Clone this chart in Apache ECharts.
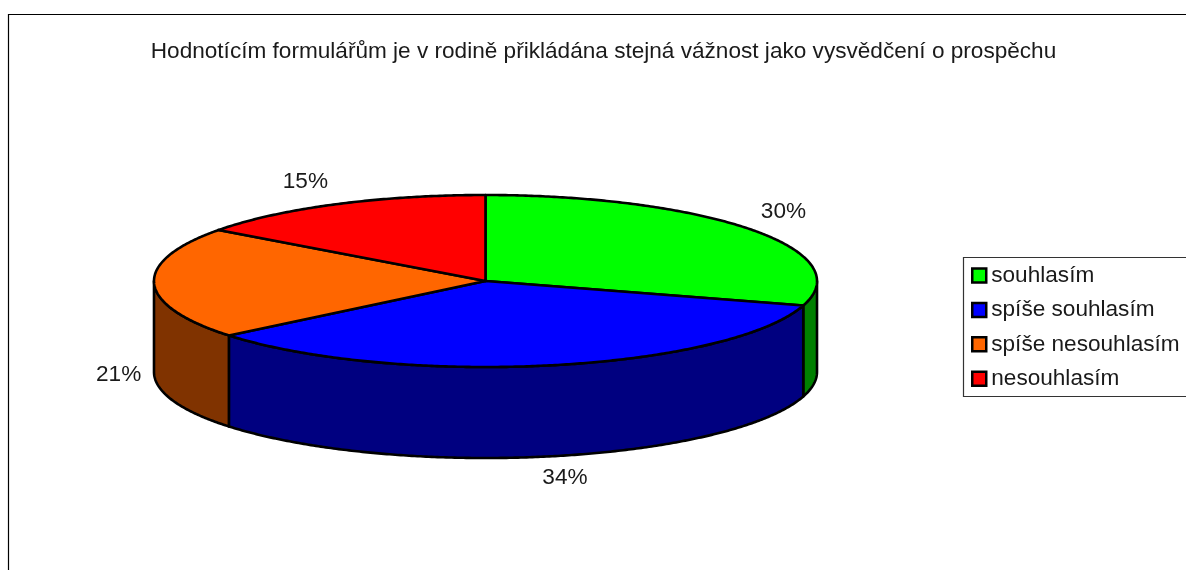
<!DOCTYPE html>
<html><head><meta charset="utf-8">
<style>html,body{margin:0;padding:0;background:#fff}#c{width:1186px;height:570px}</style>
<script src="https://cdn.jsdelivr.net/npm/echarts@6/dist/echarts.min.js"></script>
</head><body><div id="c"></div>
<script>
const titleText = 'Hodnotícím formulářům je v rodině přikládána stejná vážnost jako vysvědčení o prospěchu';
const categories = ['souhlasím', 'spíše souhlasím', 'spíše nesouhlasím', 'nesouhlasím'];
const values = [29.6, 34.49, 21, 14.91];
const topColors = ['#00FF00', '#0000FF', '#FF6600', '#FF0000'];
const wallColors = ['#008000', '#000080', '#803300', '#800000'];
const labelNudge = [[3, -2], [7, -4], [1, 0], [-14, 1]];
const FONT = '"Liberation Sans", Arial, sans-serif';

const cx = 485.5, cy = 281, rx = 331.5, ry = 86, depth = 91;
const total = values.reduce((a, b) => a + b, 0);
const pt = (deg, dy) => {
  const t = deg * Math.PI / 180;
  return [cx + rx * Math.sin(t), cy - ry * Math.cos(t) + (dy || 0)];
};
const arc = (a, b, dy) => {
  const out = [], n = Math.max(2, Math.ceil(Math.abs(b - a) * 2));
  for (let i = 0; i <= n; i++) out.push(pt(a + (b - a) * i / n, dy));
  return out;
};

function makeRender(index) {
  return function (params, api) {
    const v = api.value(0);
    let before = 0;
    for (let i = 0; i < index; i++) before += values[i];
    const a0 = before / total * 360, a1 = (before + v) / total * 360;
    const children = [];
    const line = { stroke: '#000', lineWidth: 2.6, lineJoin: 'round' };
    const w0 = Math.max(a0, 90), w1 = Math.min(a1, 270);
    if (w1 > w0) {
      children.push({
        type: 'polygon',
        shape: { points: arc(w0, w1, 0).concat(arc(w1, w0, depth)) },
        style: Object.assign({ fill: wallColors[index] }, line)
      });
    }
    children.push({
      type: 'polygon',
      shape: { points: [[cx, cy]].concat(arc(a0, a1, 0)) },
      style: Object.assign({ fill: topColors[index] }, line)
    });
    const m = (a0 + a1) / 2 * Math.PI / 180;
    const front = Math.cos(m) < 0 ? depth : 0;
    children.push({
      type: 'text',
      style: {
        text: Math.round(v / total * 100) + '%',
        x: cx + 368 * Math.sin(m) + labelNudge[index][0],
        y: cy - 112 * Math.cos(m) + front + labelNudge[index][1],
        textAlign: 'center', textVerticalAlign: 'middle',
        fontSize: 22.6, fontFamily: FONT, fill: '#1a1a1a'
      }
    });
    return { type: 'group', children };
  };
}

const chart = echarts.init(document.getElementById('c'), null, { renderer: 'canvas' });
chart.setOption({
  animation: false,
  backgroundColor: '#fff',
  title: {
    text: titleText, left: 603.5, top: 40, textAlign: 'center', padding: 0,
    textStyle: { fontSize: 22.6, fontWeight: 'normal', color: '#1a1a1a', fontFamily: FONT }
  },
  legend: {
    orient: 'vertical', left: 971, top: 264, padding: 0, itemGap: 11.4,
    itemWidth: 14, itemHeight: 14, icon: 'rect',
    data: categories,
    itemStyle: { borderColor: '#000', borderWidth: 2.5 },
    textStyle: { fontSize: 22.6, color: '#1a1a1a', fontFamily: FONT, padding: [0, 0, 0, 0], height: 23, lineHeight: 23 }
  },
  graphic: [
    { type: 'rect', z: -1, shape: { x: 8.5, y: 14.5, width: 1300, height: 700 }, style: { fill: 'none', stroke: '#000', lineWidth: 1.2 } },
    { type: 'rect', z: -1, shape: { x: 963.5, y: 257.5, width: 300, height: 139 }, style: { fill: '#fff', stroke: '#333', lineWidth: 1.2 } }
  ],
  series: categories.map((name, i) => ({
    type: 'custom', name, coordinateSystem: 'none',
    itemStyle: { color: topColors[i] },
    data: [[values[i]]],
    renderItem: makeRender(i)
  }))
});
</script></body></html>
